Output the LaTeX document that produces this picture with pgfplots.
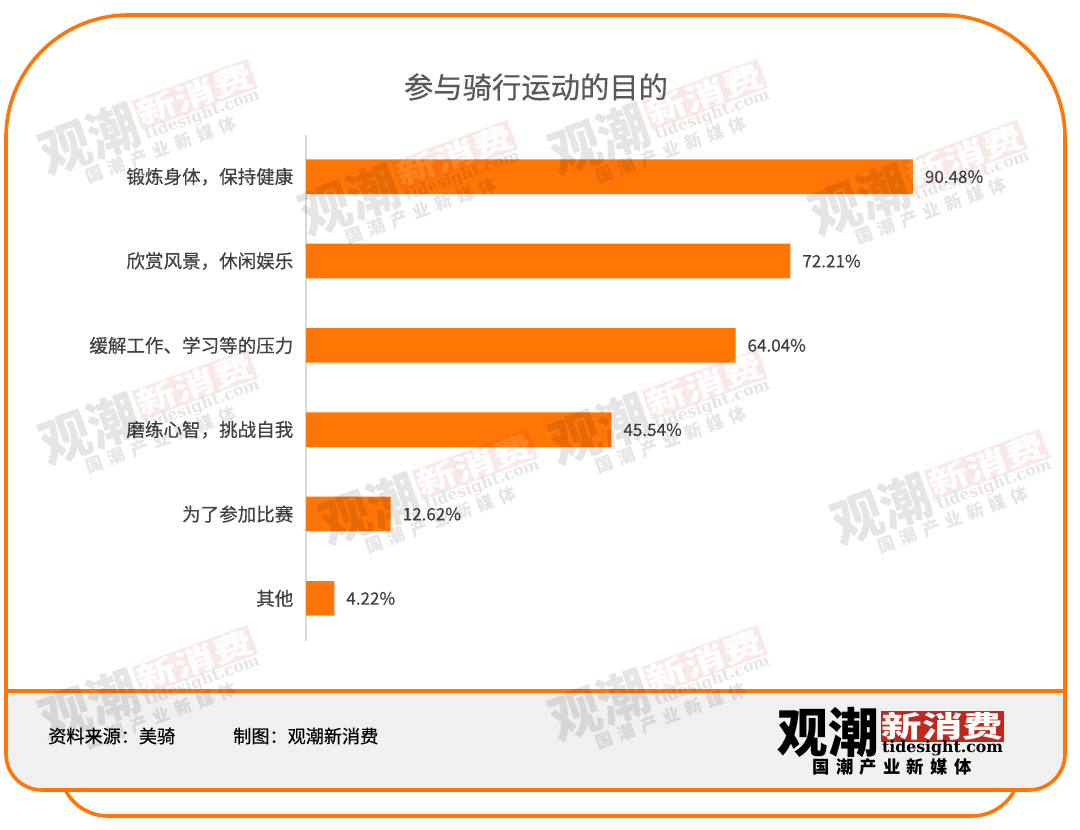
\documentclass[border=0pt]{standalone}
\usepackage{fontspec}
\usepackage{pgfplots}
\pgfplotsset{compat=1.18}
\setmainfont{Noto Sans CJK SC}
\newfontfamily\medcjk[FakeBold=0.4]{Noto Sans CJK SC}
\newfontfamily\spacedcjk[LetterSpace=36]{Noto Sans CJK SC}
\newfontfamily\logolat{DejaVu Serif}
\definecolor{org}{HTML}{FF7606}
\definecolor{foot}{HTML}{F0F0F0}
\definecolor{lab}{HTML}{404040}
\definecolor{logored}{HTML}{C0281C}
\newcommand{\logo}{%
  \node[transform shape,inner sep=0pt,anchor=center,yscale=1.05] at (-63,-4) {\fontsize{38}{38}\selectfont\bfseries 观潮};
  \fill[logored] (-10,-26) rectangle (113,5);
  \node[transform shape,inner sep=0pt,text=white,xscale=1.38] at (51.5,-10.5) {\fontsize{22}{22}\selectfont\bfseries 新消费};
  \node[transform shape,inner sep=0pt] at (51.5,11.5) {\logolat\fontsize{11.8}{12}\selectfont\bfseries tidesight.com};
  \node[transform shape,inner sep=0pt] at (1,30) {\spacedcjk\fontsize{13}{13}\selectfont\bfseries 国潮产业新媒体};
}
\newcommand{\wm}[2]{%
  \begin{scope}[shift={(#1,#2)},rotate=20,opacity=0.10,transparency group]
    \logo
  \end{scope}%
}
\begin{document}
\begin{tikzpicture}
\begin{scope}[x=0.75pt,y=-0.75pt]
\path[use as bounding box,fill=white] (0,0) rectangle (1080,829);
% back tab
\draw[org,line width=2.7pt,rounded corners=36pt] (60,770) -- (60,816) -- (1020,816) -- (1020,770);
\fill[white] (58,760) rectangle (1022,790);
% panel
\path[fill=white,rounded corners=92pt] (6,400) -- (6,15) -- (1065,15) -- (1065,400) -- cycle;
\path[fill=foot,rounded corners=27pt] (6,650) -- (6,790) -- (1065,790) -- (1065,650) -- cycle;
\fill[white] (6,300) rectangle (1065,691);
\draw[org,line width=2.7pt,rounded corners=92pt] (6,400) -- (6,15) -- (1065,15) -- (1065,400);
\draw[org,line width=2.7pt] (6,399) -- (6,700);
\draw[org,line width=2.7pt] (1065,399) -- (1065,700);
\draw[org,line width=2.7pt,rounded corners=27pt] (6,690) -- (6,790) -- (1065,790) -- (1065,690);
\draw[org,line width=3pt] (6,691) -- (1065,691);
\end{scope}

\begin{axis}[
  at={(229.5pt,-100.9pt)},anchor=north west,
  scale only axis,width=503pt,height=379.5pt,
  xmin=0,xmax=100,ymin=-0.5,ymax=5.5,
  y dir=reverse,
  axis y line*=left,axis x line=none,
  axis line style={draw=black!15,line width=0.8pt,-},
  ytick={0,1,2,3,4,5},
  yticklabels={锻炼身体，保持健康,欣赏风景，休闲娱乐,缓解工作、学习等的压力,磨练心智，挑战自我,为了参加比赛,其他},
  major tick length=0pt,
  yticklabel style={font=\medcjk\fontsize{13.9}{14}\selectfont,text=lab,xshift=-6pt},
  clip=false,
  xbar,bar width=26pt,
  point meta=x,
  nodes near coords={\pgfmathprintnumber[fixed,precision=2,fixed zerofill,assume math mode=true]{\pgfplotspointmeta}\%},
  nodes near coords style={font=\medcjk\fontsize{12.8}{13}\selectfont,text=lab,xshift=5.5pt},
]
\addplot[fill=org,draw=none] coordinates {(90.48,0) (72.21,1) (64.04,2) (45.54,3) (12.62,4) (4.22,5)};
\end{axis}

\begin{scope}[x=0.75pt,y=-0.75pt]
% title
\node[text=black!65,inner sep=0pt] at (536,87) {\medcjk\fontsize{22}{22}\selectfont 参与骑行运动的目的};
% footer
\node[anchor=west,inner sep=0pt,text=black] at (48,736) {\medcjk\fontsize{13.6}{14}\selectfont 资料来源：美骑};
\node[anchor=west,inner sep=0pt,text=black] at (233,736) {\medcjk\fontsize{13.6}{14}\selectfont 制图：观潮新消费};
% logo
\begin{scope}[shift={(891,737)}]
  \logo
\end{scope}
% watermarks
\wm{150}{122}\wm{410}{183}\wm{660}{122}\wm{920}{183}
\wm{150}{412}\wm{660}{412}\wm{430}{492}\wm{942}{492}
\wm{150}{688}\wm{660}{688}
\end{scope}
\end{tikzpicture}
\end{document}
